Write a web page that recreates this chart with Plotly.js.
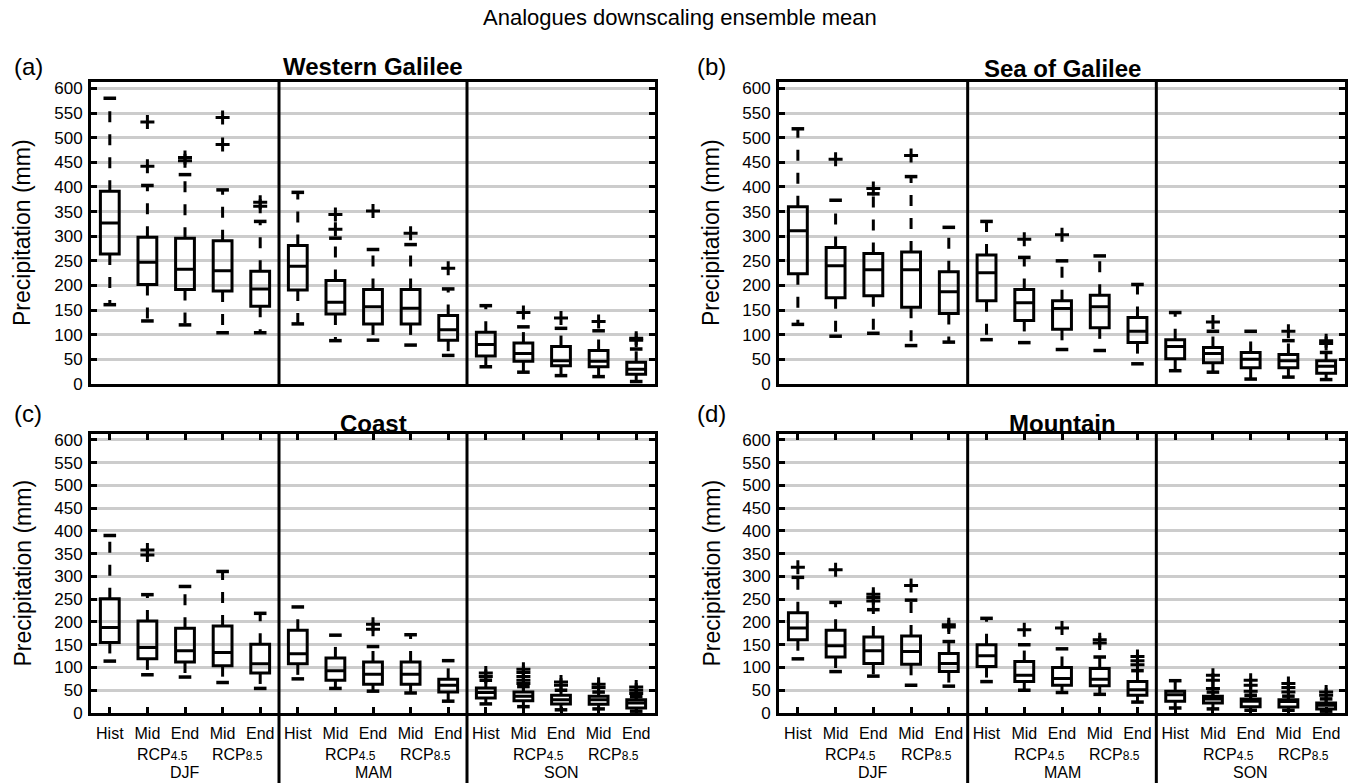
<!DOCTYPE html>
<html>
<head>
<meta charset="utf-8">
<script src="https://cdn.plot.ly/plotly-3.0.1.min.js"></script>
<style>
  html, body { margin: 0; padding: 0; background: #ffffff; }
  #chart { width: 1360px; height: 783px; }
</style>
</head>
<body>
<div id="chart"></div>
<script>
// Category labels along the x axis
const categories = ['Hist', 'Mid', 'End', 'Mid', 'End'];
const scenarioLabels = ['RCP4.5', 'RCP8.5'];
const seasons = ['DJF', 'MAM', 'SON'];
const regions = ['Western Galilee', 'Sea of Galilee', 'Coast', 'Mountain'];
const panelLetters = ['(a)', '(b)', '(c)', '(d)'];
const figureTitle = 'Analogues downscaling ensemble mean';
const yTitle = 'Precipitation (mm)';
const yTicks = [0, 50, 100, 150, 200, 250, 300, 350, 400, 450, 500, 550, 600];

// Box statistics (mm), ordered DJF Hist..End, MAM Hist..End, SON Hist..End
const westernGalileeLower  = [161, 128, 120, 104, 104, 122, 88, 89, 79, 58, 35, 24, 17, 15, 5];
const westernGalileeQ1     = [264, 202, 192, 189, 158, 191, 142, 122, 122, 89, 57, 46, 37, 35, 20];
const westernGalileeMedian = [327, 247, 233, 230, 193, 239, 166, 157, 154, 110, 80, 62, 47, 46, 30];
const westernGalileeQ3     = [391, 298, 296, 291, 229, 281, 210, 192, 192, 139, 105, 83, 76, 68, 44];
const westernGalileeUpper  = [580, 403, 425, 394, 330, 389, 296, 273, 283, 193, 159, 116, 113, 108, 71];
const westernGalileeOutliers = [[], [532, 442], [460, 453], [541, 486], [369, 361], [], [344, 314], [351], [306], [235], [], [145], [134], [127], [93, 89]];

const seaOfGalileeLower  = [121, 97, 103, 78, 85, 90, 84, 70, 68, 41, 27, 24, 10, 14, 9];
const seaOfGalileeQ1     = [224, 175, 179, 156, 143, 169, 129, 111, 114, 84, 51, 43, 33, 33, 22];
const seaOfGalileeMedian = [311, 240, 232, 232, 187, 226, 165, 153, 157, 107, 76, 62, 50, 47, 36];
const seaOfGalileeQ3     = [360, 277, 265, 268, 228, 262, 192, 169, 180, 135, 90, 74, 64, 60, 47];
const seaOfGalileeUpper  = [518, 373, 386, 421, 318, 330, 257, 250, 260, 202, 145, 107, 107, 88, 64];
const seaOfGalileeOutliers = [[], [456], [397], [464], [], [], [294], [303], [], [], [], [126], [], [107], [88, 82]];

const coastLower  = [114, 84, 79, 67, 54, 75, 54, 48, 44, 26, 20, 14, 7, 9, 4];
const coastQ1     = [155, 119, 112, 104, 88, 108, 72, 63, 63, 46, 33, 27, 20, 19, 11];
const coastMedian = [188, 144, 137, 133, 108, 130, 93, 85, 85, 61, 45, 37, 29, 29, 22];
const coastQ3     = [251, 202, 186, 191, 151, 182, 121, 112, 112, 74, 55, 46, 39, 37, 29];
const coastUpper  = [390, 260, 278, 311, 219, 233, 171, 146, 172, 115, 72, 58, 50, 46, 36];
const coastOutliers = [[], [358, 347], [], [], [], [], [], [195, 184], [], [], [88, 80], [96, 89, 80, 72, 65], [68, 61], [63, 56], [57, 50, 43]];

const mountainLower  = [119, 91, 81, 61, 59, 69, 50, 45, 41, 24, 11, 9, 6, 6, 4];
const mountainQ1     = [161, 123, 109, 107, 91, 102, 69, 61, 60, 39, 26, 22, 14, 13, 9];
const mountainMedian = [187, 148, 137, 135, 109, 126, 83, 76, 74, 51, 40, 31, 26, 25, 17];
const mountainQ3     = [220, 182, 167, 169, 131, 150, 113, 100, 98, 69, 48, 37, 31, 29, 22];
const mountainUpper  = [298, 243, 227, 248, 157, 208, 150, 141, 123, 93, 71, 46, 39, 37, 31];
const mountainOutliers = [[320], [315], [261, 254, 246], [280], [194, 189], [], [183], [187], [161, 154], [124, 115, 106], [], [83, 72, 54], [72, 61, 48], [65, 56, 46], [46, 39]];

const panels = [
  { lower: westernGalileeLower, q1: westernGalileeQ1, median: westernGalileeMedian, q3: westernGalileeQ3, upper: westernGalileeUpper, outliers: westernGalileeOutliers },
  { lower: seaOfGalileeLower, q1: seaOfGalileeQ1, median: seaOfGalileeMedian, q3: seaOfGalileeQ3, upper: seaOfGalileeUpper, outliers: seaOfGalileeOutliers },
  { lower: coastLower, q1: coastQ1, median: coastMedian, q3: coastQ3, upper: coastUpper, outliers: coastOutliers },
  { lower: mountainLower, q1: mountainQ1, median: mountainMedian, q3: mountainQ3, upper: mountainUpper, outliers: mountainOutliers }
];

// ---- layout geometry (pixels of a 1360 x 783 canvas) ----
const W = 1360, H = 783;
const px = v => v / W;
const py = v => 1 - v / H;
const SANS = 'Liberation Sans, Arial, sans-serif';
const NARROW = 'Liberation Sans Narrow, Arial Narrow, Liberation Sans, sans-serif';

const colDomains = [[px(91), px(655)], [px(779), px(1345)]];
const rowDomains = [[py(384), py(82)], [py(713), py(434)]];
const nPerSeason = categories.length;
const nBoxes = nPerSeason * seasons.length;
const positions = Array.from({ length: nBoxes }, (_, i) => i + 1);
const tickText = seasons.flatMap(() => categories);

const traces = [];
const shapes = [];
const annotations = [];
const layout = {
  width: W, height: H, autosize: false,
  margin: { l: 0, r: 0, t: 0, b: 0, pad: 0 },
  paper_bgcolor: '#ffffff', plot_bgcolor: '#ffffff',
  showlegend: false, hovermode: false,
  font: { family: SANS, color: '#000000' }
};

panels.forEach((p, i) => {
  const row = Math.floor(i / 2), col = i % 2;
  const n = i + 1;
  const xa = n === 1 ? 'x' : 'x' + n;
  const ya = n === 1 ? 'y' : 'y' + n;
  const bottomRow = row === 1;

  // box body with median
  traces.push({
    type: 'box', xaxis: xa, yaxis: ya,
    x: positions, q1: p.q1, median: p.median, q3: p.q3,
    lowerfence: p.q1, upperfence: p.q3,
    width: 0.5, whiskerwidth: 0, boxpoints: false,
    line: { color: '#000000', width: 3 },
    fillcolor: 'rgba(0,0,0,0)', hoverinfo: 'skip'
  });

  // dashed whiskers
  const wx = [], wy = [];
  positions.forEach((k, j) => {
    wx.push(k, k, null, k, k, null);
    wy.push(p.q3[j], p.upper[j], null, p.q1[j], p.lower[j], null);
  });
  traces.push({
    type: 'scatter', mode: 'lines', xaxis: xa, yaxis: ya,
    x: wx, y: wy, connectgaps: false,
    line: { color: '#000000', width: 3, dash: '11px,12px' }, hoverinfo: 'skip'
  });

  // whisker caps
  traces.push({
    type: 'scatter', mode: 'markers', xaxis: xa, yaxis: ya,
    x: positions.concat(positions), y: p.upper.concat(p.lower),
    marker: { symbol: 'line-ew', size: 9, color: '#000000', line: { color: '#000000', width: 3.5 } },
    hoverinfo: 'skip'
  });

  // outliers
  const ox = [], oy = [];
  p.outliers.forEach((vals, j) => vals.forEach(v => { ox.push(positions[j]); oy.push(v); }));
  traces.push({
    type: 'scatter', mode: 'markers', xaxis: xa, yaxis: ya,
    x: ox, y: oy,
    marker: { symbol: 'cross-thin', size: 10, color: '#000000', line: { color: '#000000', width: 3 } },
    hoverinfo: 'skip'
  });

  const xKey = n === 1 ? 'xaxis' : 'xaxis' + n;
  const yKey = n === 1 ? 'yaxis' : 'yaxis' + n;
  layout[xKey] = {
    domain: colDomains[col], anchor: ya,
    range: [0.5, nBoxes + 0.5], fixedrange: true,
    showgrid: false, zeroline: false,
    showline: true, linecolor: '#000000', linewidth: 3,
    mirror: bottomRow ? 'allticks' : true,
    ticks: bottomRow ? 'inside' : '', ticklen: 6, tickwidth: 3, tickcolor: '#000000',
    tickmode: 'array', tickvals: positions, ticktext: tickText,
    showticklabels: bottomRow, ticklabelstandoff: 4,
    tickfont: { family: NARROW, size: 16, color: '#000000' }
  };
  layout[yKey] = {
    domain: rowDomains[row], anchor: xa,
    range: [0, 613], fixedrange: true,
    tickmode: 'array', tickvals: yTicks,
    showgrid: true, gridcolor: '#cccccc', gridwidth: 3,
    zeroline: false,
    showline: true, linecolor: '#000000', linewidth: 3, mirror: 'allticks',
    ticks: 'inside', ticklen: 6, tickwidth: 3, tickcolor: '#000000',
    ticklabelstandoff: 2,
    tickfont: { family: SANS, size: 17, color: '#000000' }
  };

  // season separators
  [nPerSeason + 0.5, 2 * nPerSeason + 0.5].forEach(xv => {
    shapes.push(bottomRow
      ? { type: 'line', xref: xa, yref: 'paper', x0: xv, x1: xv, y0: 0, y1: rowDomains[row][1], line: { color: '#000000', width: 3 } }
      : { type: 'line', xref: xa, yref: ya + ' domain', x0: xv, x1: xv, y0: 0, y1: 1, line: { color: '#000000', width: 3 } });
  });

  // panel title, letter and y-axis title
  const dom = colDomains[col];
  const topPx = row === 0 ? [66, 69][col] : 423;
  annotations.push({
    xref: 'paper', yref: 'paper', x: (dom[0] + dom[1]) / 2, y: py(topPx),
    xanchor: 'center', yanchor: 'middle', showarrow: false,
    text: '<b>' + regions[i] + '</b>', font: { family: SANS, size: 24, color: '#000000' }
  });
  annotations.push({
    xref: 'paper', yref: 'paper', x: px(col === 0 ? 28 : 711), y: py(row === 0 ? 67 : 413),
    xanchor: 'center', yanchor: 'middle', showarrow: false,
    text: panelLetters[i], font: { family: SANS, size: 24, color: '#000000' }
  });
  annotations.push({
    xref: 'paper', yref: 'paper', x: px(col === 0 ? 22 : 711),
    y: (rowDomains[row][0] + rowDomains[row][1]) / 2,
    xanchor: 'center', yanchor: 'middle', showarrow: false, textangle: -90,
    text: yTitle, font: { family: SANS, size: 23, color: '#000000' }
  });

  // scenario and season labels under the bottom panels
  if (bottomRow) {
    seasons.forEach((s, si) => {
      const base = si * nPerSeason;
      scenarioLabels.forEach((lab, li) => {
        annotations.push({
          xref: xa, yref: 'paper', x: base + 2.4 + 2 * li, y: py(754),
          xanchor: 'center', yanchor: 'middle', showarrow: false,
          text: lab.slice(0, 3) + '<span style="font-size:12px;font-family:Liberation Sans">' + lab.slice(3) + '</span>',
          font: { family: NARROW, size: 16, color: '#000000' }
        });
      });
      annotations.push({
        xref: xa, yref: 'paper', x: base + 3, y: 0,
        xanchor: 'center', yanchor: 'bottom', showarrow: false,
        text: s, font: { family: NARROW, size: 16, color: '#000000' }
      });
    });
  }
});

annotations.push({
  xref: 'paper', yref: 'paper', x: 0.5, y: py(18),
  xanchor: 'center', yanchor: 'middle', showarrow: false,
  text: figureTitle, font: { family: SANS, size: 22, color: '#000000' }
});

layout.shapes = shapes;
layout.annotations = annotations;

Plotly.newPlot('chart', traces, layout, { staticPlot: true, displayModeBar: false });
</script>
</body>
</html>
